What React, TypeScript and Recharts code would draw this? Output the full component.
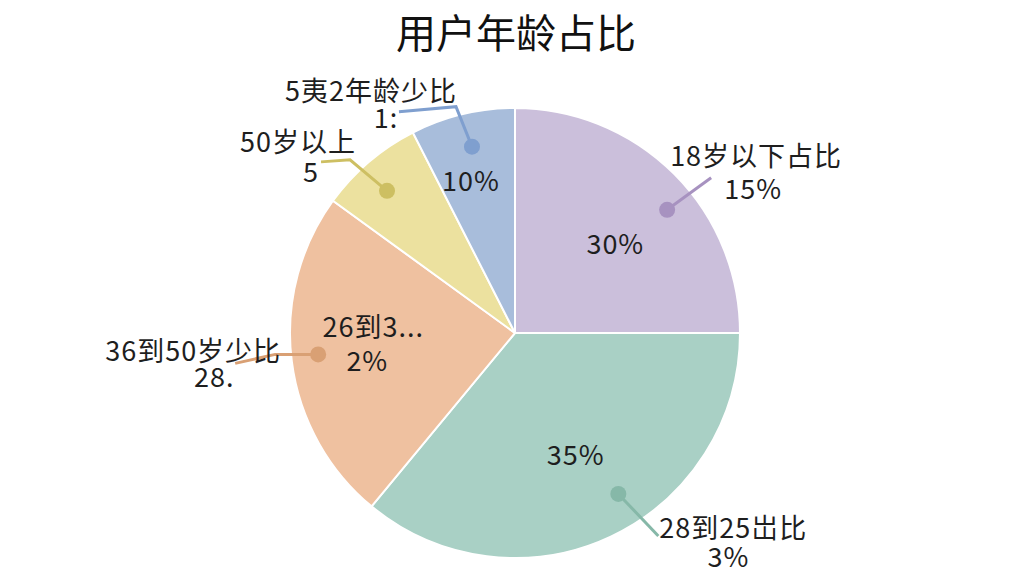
import React from 'react';
import { PieChart, Pie, Cell } from 'recharts';

// slice data, clockwise from 12 o'clock
const names = ['18岁以下', '18到25岁', '26到35岁', '50岁以上', '36到50岁'];
const values = [25, 36, 24, 7.5, 7.5];
const innerLine1 = ['30%', '35%', '26到3...', '', '10%'];
const innerLine2 = ['', '', '2%', '', ''];
const outerLine1 = ['18岁以下占比', '28到25岀比', '36到50岁少比', '50岁以上', '5夷2年龄少比'];
const outerLine2 = ['15%', '3%', '28.', '5', '1:'];

const COLORS = ['#cbbfdb', '#a9d0c5', '#efc1a0', '#ece19f', '#a8bddb'];
const DOT_COLORS = ['#a792c0', '#86b8a8', '#d9a074', '#cdbf62', '#7f9fcf'];

// label layout per slice: dot (angle offset, radius ratio), leader path & text offsets from dot
const LAYOUT = [
  { da: -6, dr: 0.87, path: [[44, -32]], t1: [89, -55], t2: [86, -22], ia: -3, ir: 0.6 },
  { da: 7.5, dr: 0.85, path: [[40, 42]], t1: [115, 33], t2: [110, 62], ia: 1.5, ir: 0.6 },
  { da: -1, dr: 0.88, path: [[-43, 0], [-83, 9]], t1: [-125, -5], t2: [-104, 21], ia: -9, ir: 0.63 },
  { da: 1.5, dr: 0.85, path: [[-37, -31], [-66, -29]], t1: [-89, -50], t2: [-76, -20], ia: 0, ir: 0.6 },
  { da: -0.5, dr: 0.85, path: [[-16, -40], [-73, -35]], t1: [-101, -57], t2: [-86, -30], ia: 2.5, ir: 0.71 },
];

const data = names.map((name, i) => ({ name, value: values[i] }));
const RAD = Math.PI / 180;
const FONT = '"Noto Sans CJK SC", "Noto Sans", sans-serif';

const polar = (cx: number, cy: number, r: number, a: number) => [cx + r * Math.cos(-a * RAD), cy + r * Math.sin(-a * RAD)];

const renderLabel = (props: any) => {
  const { cx, cy, midAngle, outerRadius, index } = props;
  const l = LAYOUT[index];
  const [dx, dy] = polar(cx, cy, outerRadius * l.dr, midAngle + l.da);
  const pts = [[dx, dy], ...l.path.map(([px, py]) => [dx + px, dy + py])];
  const [ix, iy] = polar(cx, cy, outerRadius * l.ir, midAngle + l.ia);
  const textStyle = { fontFamily: FONT, fontSize: 27, letterSpacing: 1, fill: '#1e1e1e' };
  return (
    <g key={`lbl-${index}`}>
      <polyline points={pts.map((p) => p.join(',')).join(' ')} fill="none" stroke={DOT_COLORS[index]} strokeWidth={3} />
      <circle cx={dx} cy={dy} r={8} fill={DOT_COLORS[index]} />
      <text x={dx + l.t1[0]} y={dy + l.t1[1]} textAnchor="middle" dominantBaseline="central" style={textStyle}>
        {outerLine1[index]}
      </text>
      <text x={dx + l.t2[0]} y={dy + l.t2[1]} textAnchor="middle" dominantBaseline="central" style={textStyle}>
        {outerLine2[index]}
      </text>
      {innerLine1[index] && (
        <text x={ix} y={innerLine2[index] ? iy - 3 : iy} textAnchor="middle" dominantBaseline="central" style={textStyle}>
          {innerLine1[index]}
        </text>
      )}
      {innerLine2[index] && (
        <text x={ix - 6} y={iy + 31} textAnchor="middle" dominantBaseline="central" style={textStyle}>
          {innerLine2[index]}
        </text>
      )}
    </g>
  );
};

export default function App() {
  return (
    <div style={{ position: 'absolute', left: 0, top: 0, width: 1024, height: 576, background: '#fff' }}>
      <div
        style={{
          position: 'absolute',
          left: 0,
          top: 2,
          width: 1032,
          textAlign: 'center',
          fontFamily: FONT,
          fontSize: 40,
          fontWeight: 400,
          color: '#111',
        }}
      >
        用户年龄占比
      </div>
      <PieChart width={1024} height={576} margin={{ top: 0, right: 0, bottom: 0, left: 0 }}>
        <Pie
          data={data}
          dataKey="value"
          nameKey="name"
          cx={515}
          cy={333}
          outerRadius={225}
          startAngle={90}
          endAngle={-270}
          stroke="#ffffff"
          strokeWidth={2}
          label={renderLabel}
          labelLine={false}
          isAnimationActive={false}
        >
          {data.map((d, i) => (
            <Cell key={d.name} fill={COLORS[i]} />
          ))}
        </Pie>
      </PieChart>
    </div>
  );
}
